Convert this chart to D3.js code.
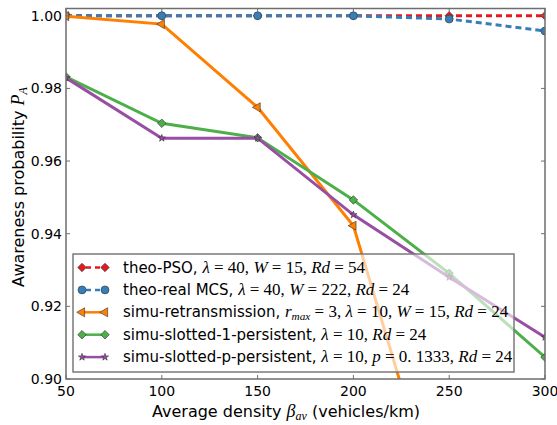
<!DOCTYPE html>
<html>
<head>
<meta charset="utf-8">
<script src="https://cdn.jsdelivr.net/npm/d3@7"></script>
<style>
  body { margin: 0; background: #fff; }
  text { font-family: "DejaVu Sans", sans-serif; }
  .m { font-family: "Liberation Serif", "DejaVu Serif", serif; }
</style>
</head>
<body>
<svg id="chart"></svg>
<script>
var density = [50, 100, 150, 200, 250, 300];
var theoPSO = [1.0, 1.0, 1.0, 1.0, 1.0, 1.0];
var theoMCS = [1.0, 1.0, 1.0, 1.0, 0.9991, 0.9958];
var simuRetrans = [0.9999, 0.9977, 0.9748, 0.9422, 0.854, 0.76];
var simuSlotted1 = [0.9832, 0.9704, 0.9664, 0.9493, 0.9291, 0.9060];
var simuSlottedP = [0.9829, 0.9663, 0.9663, 0.9452, 0.9280, 0.9115];
var xTicks = [50, 100, 150, 200, 250, 300];
var yTicks = [0.90, 0.92, 0.94, 0.96, 0.98, 1.00];

var width = 557, height = 425;
var plot = {left: 66, right: 545, top: 8.5, bottom: 379};

var svg = d3.select("#chart")
    .attr("width", width)
    .attr("height", height);

var x = d3.scaleLinear().domain([50, 300]).range([plot.left, plot.right]);
var y = d3.scaleLinear().domain([0.90, 1.002]).range([plot.bottom, plot.top]);

svg.append("clipPath").attr("id", "clip")
  .append("rect")
    .attr("x", plot.left).attr("y", plot.top)
    .attr("width", plot.right - plot.left)
    .attr("height", plot.bottom - plot.top);

var diamond = d3.symbol().type(d3.symbolSquare).size(36);
var circle = d3.symbol().type(d3.symbolCircle).size(50);
var triangle = d3.symbol().type(d3.symbolTriangle).size(36);
var star = d3.symbol().type(d3.symbolStar).size(16);

var series = [
  {values: theoPSO, color: "#e41a1c", dash: "6,4", shape: diamond, rot: 45,
   label: [["theo-PSO, ", "s"], ["λ", "i"], " = 40, ", ["W", "i"], " = 15, ", ["Rd", "i"], " = 54"]},
  {values: theoMCS, color: "#377eb8", dash: "6,4", shape: circle, rot: 0,
   label: [["theo-real MCS, ", "s"], ["λ", "i"], " = 40, ", ["W", "i"], " = 222, ", ["Rd", "i"], " = 24"]},
  {values: simuRetrans, color: "#ff7f00", dash: null, shape: triangle, rot: -90,
   label: [["simu-retransmission, ", "s"], ["r", "i"], ["max", "sub"], " = 3, ", ["λ", "i"], " = 10, ", ["W", "i"], " = 15, ", ["Rd", "i"], " = 24"]},
  {values: simuSlotted1, color: "#4daf4a", dash: null, shape: diamond, rot: 45,
   label: [["simu-slotted-1-persistent, ", "s"], ["λ", "i"], " = 10, ", ["Rd", "i"], " = 24"]},
  {values: simuSlottedP, color: "#984ea3", dash: null, shape: star, rot: 0,
   label: [["simu-slotted-p-persistent, ", "s"], ["λ", "i"], " = 10, ", ["p", "i"], " = 0. 1333, ", ["Rd", "i"], " = 24"]}
];

var line = d3.line()
    .x(function(d, i) { return x(density[i]); })
    .y(function(d) { return y(d); });

var g = svg.append("g").attr("clip-path", "url(#clip)");

series.forEach(function(s) {
  g.append("path")
    .attr("d", line(s.values))
    .attr("fill", "none")
    .attr("stroke", s.color)
    .attr("stroke-width", 3)
    .attr("stroke-dasharray", s.dash);

  g.selectAll(null)
    .data(s.values)
    .enter().append("path")
    .attr("d", s.shape)
    .attr("transform", function(d, i) {
      return "translate(" + x(density[i]) + "," + y(d) + ") rotate(" + s.rot + ")";
    })
    .attr("fill", s.color)
    .attr("stroke", "#333")
    .attr("stroke-width", 0.6);
});

// axes (ticks inward on all four sides)
var spine = "#6e6e6e";
svg.append("rect")
  .attr("x", plot.left).attr("y", plot.top)
  .attr("width", plot.right - plot.left)
  .attr("height", plot.bottom - plot.top)
  .attr("fill", "none")
  .attr("stroke", spine)
  .attr("stroke-width", 1.5);

var ticks = svg.append("g").attr("stroke", spine).attr("stroke-width", 1);
xTicks.forEach(function(t) {
  ticks.append("line").attr("x1", x(t)).attr("x2", x(t)).attr("y1", plot.bottom).attr("y2", plot.bottom - 4);
  ticks.append("line").attr("x1", x(t)).attr("x2", x(t)).attr("y1", plot.top).attr("y2", plot.top + 4);
});
yTicks.forEach(function(t) {
  ticks.append("line").attr("y1", y(t)).attr("y2", y(t)).attr("x1", plot.left).attr("x2", plot.left + 4);
  ticks.append("line").attr("y1", y(t)).attr("y2", y(t)).attr("x1", plot.right).attr("x2", plot.right - 4);
});

svg.selectAll(".xl")
  .data(xTicks)
  .enter().append("text")
  .attr("x", function(d) { return x(d); })
  .attr("y", plot.bottom + 17)
  .attr("text-anchor", "middle")
  .attr("font-size", 14)
  .text(function(d) { return d; });

svg.selectAll(".yl")
  .data(yTicks)
  .enter().append("text")
  .attr("x", plot.left - 4)
  .attr("y", function(d) { return y(d) + 5; })
  .attr("text-anchor", "end")
  .attr("font-size", 14)
  .text(function(d) { return d3.format(".2f")(d); });

// writes a label made of plain, italic-math and subscript pieces
function richText(sel, parts, size) {
  var shift = 0;
  parts.forEach(function(p) {
    var t;
    if (typeof p === "string") {
      t = sel.append("tspan").attr("class", "m").attr("font-size", size + 2).text(p);
    } else if (p[1] === "s") {
      t = sel.append("tspan").text(p[0]);
    } else if (p[1] === "i") {
      t = sel.append("tspan").attr("class", "m").attr("font-style", "italic").attr("font-size", size + 2).text(p[0]);
    } else {
      sel.append("tspan").attr("class", "m").attr("font-style", "italic")
        .attr("font-size", size * 0.75).attr("dy", 3).text(p[0]);
      shift = -3;
      return;
    }
    if (shift) { t.attr("dy", shift); shift = 0; }
  });
}

svg.append("text")
  .attr("x", 286).attr("y", 417)
  .attr("text-anchor", "middle")
  .attr("font-size", 16)
  .call(richText, [["Average density ", "s"], ["β", "i"], ["av", "sub"], [" (vehicles/km)", "s"]], 16);

svg.append("text")
  .attr("transform", "translate(24,187) rotate(-90)")
  .attr("text-anchor", "middle")
  .attr("font-size", 16)
  .call(richText, [["Awareness probability ", "s"], ["P", "i"], ["A", "sub"]], 16);

// legend
var lg = svg.append("g");
lg.append("rect")
  .attr("x", 73).attr("y", 254)
  .attr("width", 441).attr("height", 118)
  .attr("fill", "#fff")
  .attr("fill-opacity", 0.62)
  .attr("stroke", "#7a7a7a")
  .attr("stroke-width", 1.5);

series.forEach(function(s, i) {
  var ry = 267.5 + i * 22.4;
  lg.append("line")
    .attr("x1", 82).attr("x2", 105).attr("y1", ry).attr("y2", ry)
    .attr("stroke", s.color).attr("stroke-width", 2.5)
    .attr("stroke-dasharray", s.dash ? "5,4" : null)
    .attr("stroke-dashoffset", s.dash ? -4 : null);
  [82, 105].forEach(function(mx) {
    lg.append("path")
      .attr("d", s.shape)
      .attr("transform", "translate(" + mx + "," + ry + ") rotate(" + s.rot + ")")
      .attr("fill", s.color)
      .attr("stroke", "#333")
      .attr("stroke-width", 0.6);
  });
  lg.append("text")
    .attr("x", 123).attr("y", ry + 5)
    .attr("font-size", 15)
    .call(richText, s.label, 15);
});
</script>
</body>
</html>
